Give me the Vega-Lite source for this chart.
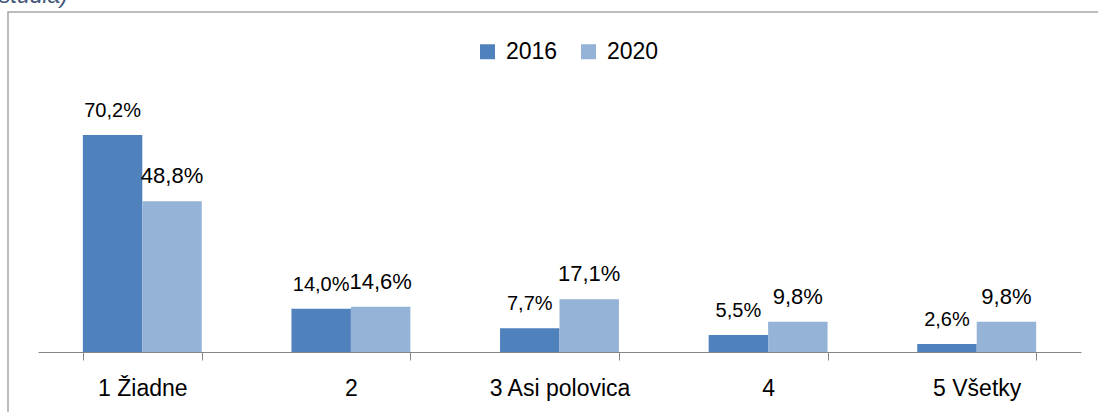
{
  "$schema": "https://vega.github.io/schema/vega-lite/v6.json",
  "width": 1096,
  "height": 402,
  "autosize": {"type": "none"},
  "padding": {"left": 8, "top": 12, "right": 0, "bottom": 0},
  "background": "white",
  "title": {"text": "studia)", "anchor": "start", "frame": "group", "fontStyle": "italic", "fontWeight": "normal", "fontSize": 23, "font": "Liberation Sans", "color": "#44587a", "dx": -9, "offset": 4},
  "data": {"values": [
    {"kategoria": "1 Žiadne", "rok": "2016", "podiel": 0.702},
    {"kategoria": "1 Žiadne", "rok": "2020", "podiel": 0.488},
    {"kategoria": "2", "rok": "2016", "podiel": 0.140},
    {"kategoria": "2", "rok": "2020", "podiel": 0.146},
    {"kategoria": "3 Asi polovica", "rok": "2016", "podiel": 0.077},
    {"kategoria": "3 Asi polovica", "rok": "2020", "podiel": 0.171},
    {"kategoria": "4", "rok": "2016", "podiel": 0.055},
    {"kategoria": "4", "rok": "2020", "podiel": 0.098},
    {"kategoria": "5 Všetky", "rok": "2016", "podiel": 0.026},
    {"kategoria": "5 Všetky", "rok": "2020", "podiel": 0.098}
  ]},
  "encoding": {
    "x": {
      "field": "kategoria", "type": "nominal", "sort": null,
      "scale": {"range": [30, 1073], "paddingInner": 0.43, "paddingOuter": 0.215},
      "axis": {"title": null, "offset": -62, "domainColor": "#868686", "tickColor": "#868686", "tickSize": 8, "tickBand": "extent", "labelFontSize": 23, "labelFont": "Liberation Sans", "labelColor": "black", "labelBaseline": "alphabetic", "labelPadding": 35, "labelAngle": 0, "domainWidth": 1, "tickWidth": 1, "grid": false}
    },
    "xOffset": {"field": "rok", "type": "nominal", "scale": {"paddingInner": 0, "paddingOuter": 0}},
    "y": {"field": "podiel", "type": "quantitative", "scale": {"domain": [0, 1.1], "range": [340, 0], "nice": false, "zero": true}, "axis": null}
  },
  "layer": [
    {
      "mark": {"type": "bar"},
      "encoding": {
        "color": {
          "field": "rok", "type": "nominal",
          "scale": {"domain": ["2016", "2020"], "range": ["#4F81BD", "#95B3D7"]},
          "legend": {"title": null, "orient": "none", "legendX": 468, "legendY": 28, "direction": "horizontal", "symbolType": "square", "symbolSize": 225, "symbolStrokeWidth": 0, "symbolOpacity": 1, "labelFontSize": 23, "labelFont": "Liberation Sans", "labelColor": "black", "labelOffset": 7, "columnPadding": 19, "padding": 0}
        }
      }
    },
    {
      "transform": [{"filter": "datum.rok === '2016'"}],
      "mark": {"type": "text", "baseline": "alphabetic", "dy": -18, "font": "Liberation Sans", "fontSize": 20, "color": "black"},
      "encoding": {
        "text": {"field": "podiel", "type": "quantitative", "format": ".1%"}
      }
    },
    {
      "transform": [{"filter": "datum.rok === '2020'"}],
      "mark": {"type": "text", "baseline": "alphabetic", "dy": -18, "font": "Liberation Sans", "fontSize": 22, "color": "black"},
      "encoding": {
        "text": {"field": "podiel", "type": "quantitative", "format": ".1%"}
      }
    }
  ],
  "config": {
    "view": {"stroke": "#A6A6A6", "strokeWidth": 1.5},
    "locale": {"number": {"decimal": ",", "thousands": " ", "grouping": [3], "currency": ["", " €"]}}
  }
}
